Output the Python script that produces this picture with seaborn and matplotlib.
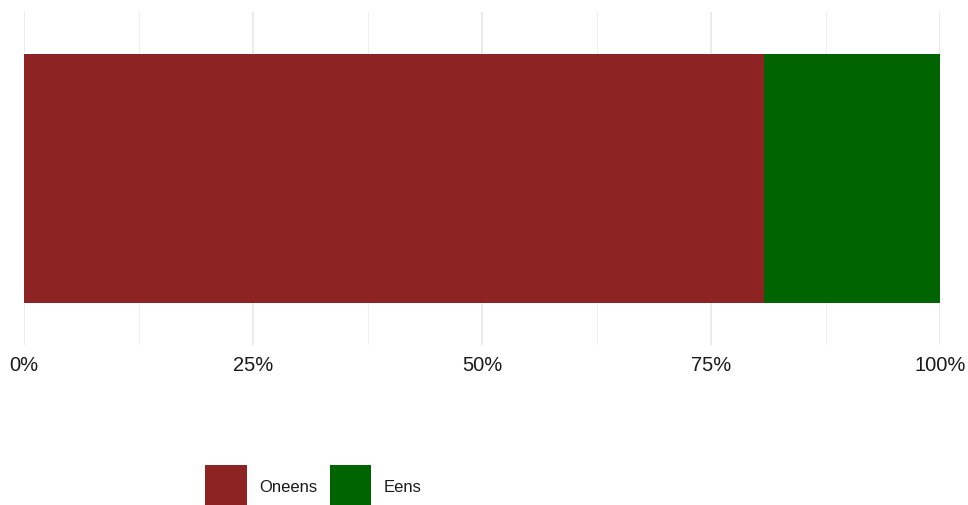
import matplotlib
matplotlib.use("Agg")
import matplotlib.pyplot as plt
import matplotlib.patches as mpatches
from matplotlib.ticker import FixedLocator
import seaborn as sns
import pandas as pd

categories = ["Oneens", "Eens"]
values = [80.8, 19.2]
colors = ["#8E2323", "#006400"]
tick_values = [0, 25, 50, 75, 100]
tick_labels = ["0%", "25%", "50%", "75%", "100%"]
minor_ticks = [12.5, 37.5, 62.5, 87.5]

sns.set_theme(style="white")
plt.rcParams["font.family"] = ["Liberation Sans", "DejaVu Sans"]

W, H = 968, 506
fig = plt.figure(figsize=(W / 100, H / 100), dpi=100)
ax = fig.add_axes([24 / W, 1 - 346 / H, 916 / W, 333 / H])

# stacked bars: draw cumulative totals back to front
cum = []
s = 0
for v in values:
    s += v
    cum.append(s)
for cat, c, col in reversed(list(zip(categories, cum, colors))):
    df = pd.DataFrame({"row": [""], "value": [c]})
    sns.barplot(data=df, x="value", y="row", orient="h", color=col,
                width=0.9, ax=ax, saturation=1, linewidth=0, zorder=3)

ax.set_xlim(0, 100)
ax.set_ylim(0.6, -0.6)
ax.set_xlabel("")
ax.set_ylabel("")
ax.set_yticks([])
ax.xaxis.set_major_locator(FixedLocator(tick_values))
ax.xaxis.set_minor_locator(FixedLocator(minor_ticks))
ax.set_xticklabels(tick_labels)
ax.tick_params(axis="x", which="both", length=0, labelsize=14.5, pad=7.5,
               colors="#1a1a1a")
ax.grid(True, axis="x", which="major", color="#E6E6E6", linewidth=1.1, zorder=0)
ax.grid(True, axis="x", which="minor", color="#EFEFEF", linewidth=0.7, zorder=0)
ax.set_axisbelow(True)
for sp in ax.spines.values():
    sp.set_visible(False)

handles = [mpatches.Patch(facecolor=col, edgecolor="none", label=cat)
           for cat, col in zip(categories, colors)]
leg = fig.legend(handles=handles, loc="upper left",
                 bbox_to_anchor=(205 / W, 1 - 466 / H), ncol=2, frameon=False,
                 fontsize=12, handlelength=2.5, handleheight=3.5,
                 handletextpad=0.75, columnspacing=0.75, borderpad=0,
                 borderaxespad=0)
for t in leg.get_texts():
    t.set_color("#1a1a1a")

fig.savefig("out.png", dpi=100)
